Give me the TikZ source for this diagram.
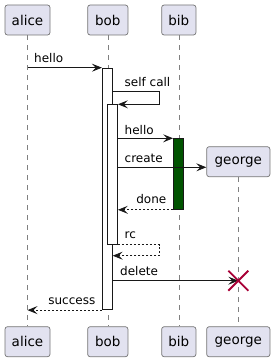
\documentclass[tikz,border=0pt]{standalone}
\usepackage{fontspec}
\setmainfont{DejaVu Sans}
\usetikzlibrary{arrows.meta,calc}
\definecolor{pfill}{HTML}{E2E2F0}
\definecolor{pline}{HTML}{181818}
\definecolor{xred}{HTML}{A80036}
\definecolor{bibgreen}{HTML}{005300}
\begin{document}
\begin{tikzpicture}[x=1pt,y=-1pt,
  part/.style={draw=pline!60, fill=pfill, rounded corners=2.5pt, line width=0.7pt,
    minimum height=30pt, inner sep=0pt, font=\fontsize{13.5}{16}\selectfont},
  life/.style={draw=pline!55, line width=0.6pt, dash pattern=on 5pt off 5pt},
  act/.style={draw=pline, fill=white, line width=0.8pt, minimum width=10pt, inner sep=0pt, anchor=north},
  msg/.style={draw=pline, line width=0.8pt, -{Stealth[length=10pt,width=8pt,inset=4pt]}},
  ret/.style={msg, dash pattern=on 2pt off 2pt},
  lbl/.style={inner sep=0pt, font=\fontsize{12}{14}\selectfont}
]
\useasboundingbox (0,0) rectangle (275,361);
% participants
\node[part, minimum width=45pt] (aliceT) at (27.5,20) {alice};
\node[part, minimum width=40.3pt] (bobT) at (107.8,20) {bob};
\node[part, minimum width=34.3pt] (bibT) at (178.8,20) {bib};
\node[part, minimum width=63.3pt] (georgeT) at (238.3,161.7) {george};
\node[part, minimum width=45pt] (aliceB) at (27.5,341.7) {alice};
\node[part, minimum width=40.3pt] (bobB) at (107.8,341.7) {bob};
\node[part, minimum width=34.3pt] (bibB) at (178.8,341.7) {bib};
\node[part, minimum width=63.3pt] (georgeB) at (238.3,341.7) {george};
% lifelines
\draw[life] (aliceT.south) -- (aliceB.north);
\draw[life] (bobT.south) -- (bobB.north);
\draw[life] (bibT.south) -- (bibB.north);
\draw[life] (georgeT.south) -- (georgeB.north);
% activations
\node[act, minimum height=241.6pt] (actB1) at (107.3,67.7) {};
\node[act, minimum height=139.7pt] (actB2) at (112.5,104.3) {};
\node[act, fill=bibgreen, minimum height=70.7pt] (actBib) at (178.5,138.3) {};
% helper coordinates
\coordinate (sc1) at (159.7,91);
\coordinate (sc2) at (159.7,255.7);
\coordinate (cr) at (206.7,167.3);
\coordinate (xmark) at (238.3,280.7);
% messages
\draw[msg] (aliceT.south |- actB1.north west) -- (actB1.north west);
\node[lbl, anchor=base west] (l1) at (34,62.3) {hello};
\draw[msg] (actB1.east |- sc1) -- (sc1) -- (sc1 |- actB2.north) -- (actB2.north east);
\node[lbl, anchor=base west] (l2) at (124.5,86) {self call};
\draw[msg] (actB2.east |- actBib.north west) -- (actBib.north west);
\node[lbl, anchor=base west] (l3) at (124.5,134) {hello};
\draw[msg] (actB2.east |- cr) -- (georgeT.west |- cr);
\node[lbl, anchor=base west] (l4) at (124.5,162.7) {create};
\draw[ret] (actBib.south west) -- (actB2.east |- actBib.south west);
\node[lbl, anchor=base east] (l5) at (166.5,203.3) {done};
\draw[ret] (actB2.south east) -- (sc2 |- actB2.south east) -- (sc2) -- (actB1.east |- sc2);
\node[lbl, anchor=base west] (l6) at (124.5,238) {rc};
\draw[msg] (actB1.east |- xmark) -- (xmark);
\node[lbl, anchor=base west] (l7) at (120,275) {delete};
\draw[xred, line width=1.8pt] ($(xmark)+(-10,-10)$) -- ($(xmark)+(10,10)$)
  ($(xmark)+(-10,10)$) -- ($(xmark)+(10,-10)$);
\draw[ret] (actB1.south west) -- (aliceT.south |- actB1.south west);
\node[lbl, anchor=base east] (l8) at (95.5,304) {success};
\end{tikzpicture}
\end{document}
